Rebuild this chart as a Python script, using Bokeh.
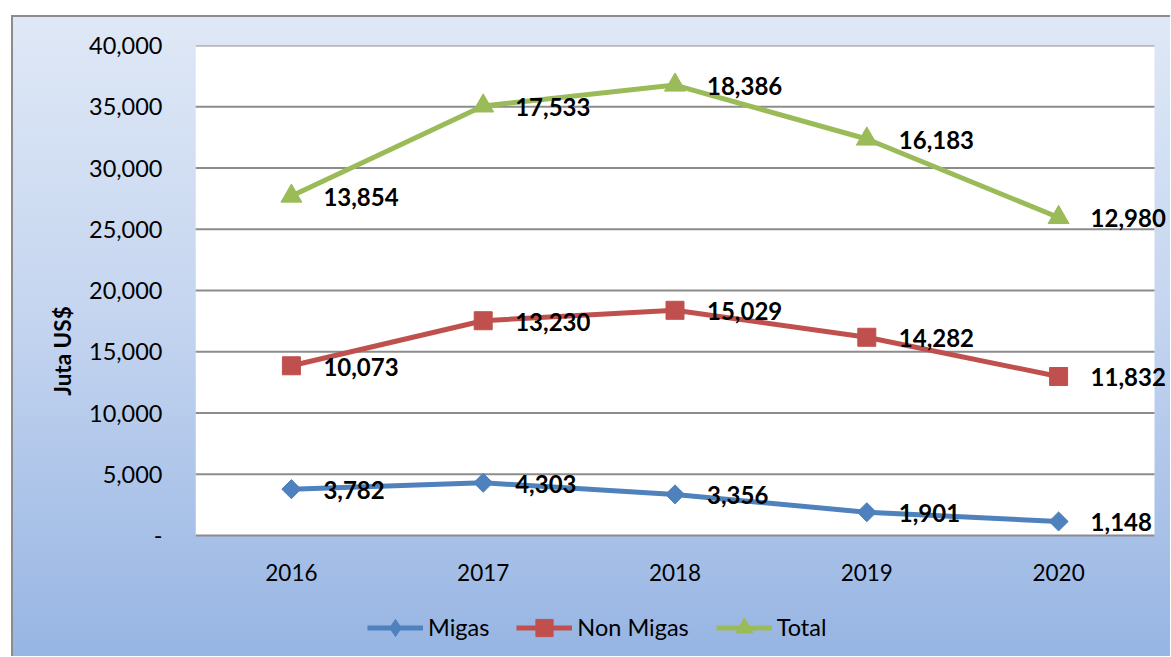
import numpy as np
from bokeh.plotting import figure
from bokeh.models import (ColumnDataSource, LabelSet, Legend, LegendItem, BoxAnnotation,
                          FixedTicker, CustomJSTickFormatter, Range1d)
from bokeh.core.properties import value
from bokeh.embed import file_html
from bokeh.resources import INLINE

# ---- data ----
years = ["2016", "2017", "2018", "2019", "2020"]
migas = [3782, 4303, 3356, 1901, 1148]
non_migas = [10073, 13230, 15029, 14282, 11832]
total = [13854, 17533, 18386, 16183, 12980]
series_names = ["Migas", "Non Migas", "Total"]
y_ticks = [0, 5000, 10000, 15000, 20000, 25000, 30000, 35000, 40000]
y_title = "Juta US$"

FONT = "Lato"
colors = ["#4f81bd", "#c0504d", "#9bbb59"]

# category positions (centre of each category slot) and stacked values
x_pos = np.arange(len(years)) + 0.5
n_cat = len(years)
stack = np.cumsum(np.array([migas, non_migas, total], dtype=float), axis=0)
y_max = 40000

# ---- layout constants (pixels) ----
W, H = 1159, 641
LEFT, TOP = 184, 30
PLOT_W, PLOT_H = 959, 490          # white plot area
frame_w = W - LEFT
frame_h = H - TOP
x_end = n_cat * frame_w / PLOT_W   # extra room right of the plot area for labels
y_start = -y_max * (frame_h - PLOT_H) / PLOT_H   # room below for year labels + legend

p = figure(x_range=Range1d(0, x_end), y_range=Range1d(y_start, y_max),
           width=W, height=H, output_backend="svg", toolbar_location=None,
           x_axis_location=None,
           min_border_left=LEFT, min_border_right=0, min_border_top=TOP,
           min_border_bottom=0)
p.margin = (15, 0, 0, 11)
p.styles = {
    "background": "linear-gradient(to bottom, #dfe8f6 0%, #c6d6f0 45%, #97b5e3 100%)",
    "box-shadow": "inset 2px 2px 0 0 #8c8c8c",
}
p.border_fill_color = None
p.background_fill_color = None
p.outline_line_color = None

# white plot area over the category slots only
p.add_layout(BoxAnnotation(left=0, right=n_cat, bottom=0, top=y_max,
                           fill_color="white", fill_alpha=1, line_color=None,
                           level="underlay"))

# horizontal gridlines limited to the plot area (the one at 0 is the axis line)
p.xgrid.grid_line_color = None
p.ygrid.grid_line_color = None
p.segment(x0=0, x1=n_cat, y0=y_ticks, y1=y_ticks, line_color="#8c8c8c", line_width=2)

# y axis
p.yaxis.ticker = FixedTicker(ticks=y_ticks)
p.yaxis.bounds = (0, y_max)
p.yaxis.formatter = CustomJSTickFormatter(
    code='return tick == 0 ? "-" : Number(tick).toLocaleString("en-US");')
p.yaxis.axis_line_color = None
p.yaxis.major_tick_line_color = None
p.yaxis.minor_tick_line_color = None
p.yaxis.major_label_standoff = 27
p.yaxis.major_label_text_font = FONT
p.yaxis.major_label_text_font_size = "23.5px"
p.yaxis.major_label_text_color = "#000000"
p.yaxis.axis_label = y_title
p.yaxis.axis_label_text_font = FONT
p.yaxis.axis_label_text_font_style = "bold"
p.yaxis.axis_label_text_font_size = "22.5px"
p.yaxis.axis_label_text_color = "#000000"
p.yaxis.axis_label_standoff = 10

# category (year) labels under the plot area
year_src = ColumnDataSource(dict(x=x_pos, y=np.zeros(n_cat), t=years))
p.add_layout(LabelSet(x="x", y="y", text="t", source=year_src, y_offset=-37,
                      text_align="center", text_baseline="middle",
                      text_font=value(FONT), text_font_size="22.5px",
                      text_color="#000000"))

markers = ["square", "square", "triangle"]
legend_markers = ["diamond", "square", "triangle"]
angles = [np.pi / 4, 0.0, 0.0]
sizes = [13.5, 18, 21]

items = []
for i, name in enumerate(series_names):
    vals = [migas, non_migas, total][i]
    src = ColumnDataSource(dict(
        x=x_pos, y=stack[i],
        lab=[f"{v:,}" for v in vals]))
    lr = p.line("x", "y", source=src, line_color=colors[i], line_width=5)
    sr = p.scatter("x", "y", source=src, marker=markers[i], size=sizes[i],
                   angle=angles[i], fill_color=colors[i], line_color=colors[i])
    if legend_markers[i] != markers[i]:
        # legend-only marker (legend swatches are drawn unrotated); point lies outside the view
        sr = p.scatter(x=[-1.0], y=[2 * y_start], marker=legend_markers[i], size=sizes[i],
                       fill_color=colors[i], line_color=colors[i])
    items.append(LegendItem(label=name, renderers=[lr, sr]))
    p.add_layout(LabelSet(x="x", y="y", text="lab", source=src, x_offset=32, y_offset=-1,
                          text_align="left", text_baseline="middle",
                          text_font=value(FONT), text_font_style="bold",
                          text_font_size="24px", text_color="#000000"))

legend = Legend(items=items, orientation="horizontal", location=(172, 7.5),
                glyph_width=56, glyph_height=43, label_standoff=5, spacing=27,
                padding=0, margin=0, background_fill_alpha=0, border_line_color=None,
                label_text_font=FONT, label_text_font_size="23.5px",
                label_text_color="#000000")
p.add_layout(legend, "center")

open("out.html", "w").write(file_html(p, INLINE))
